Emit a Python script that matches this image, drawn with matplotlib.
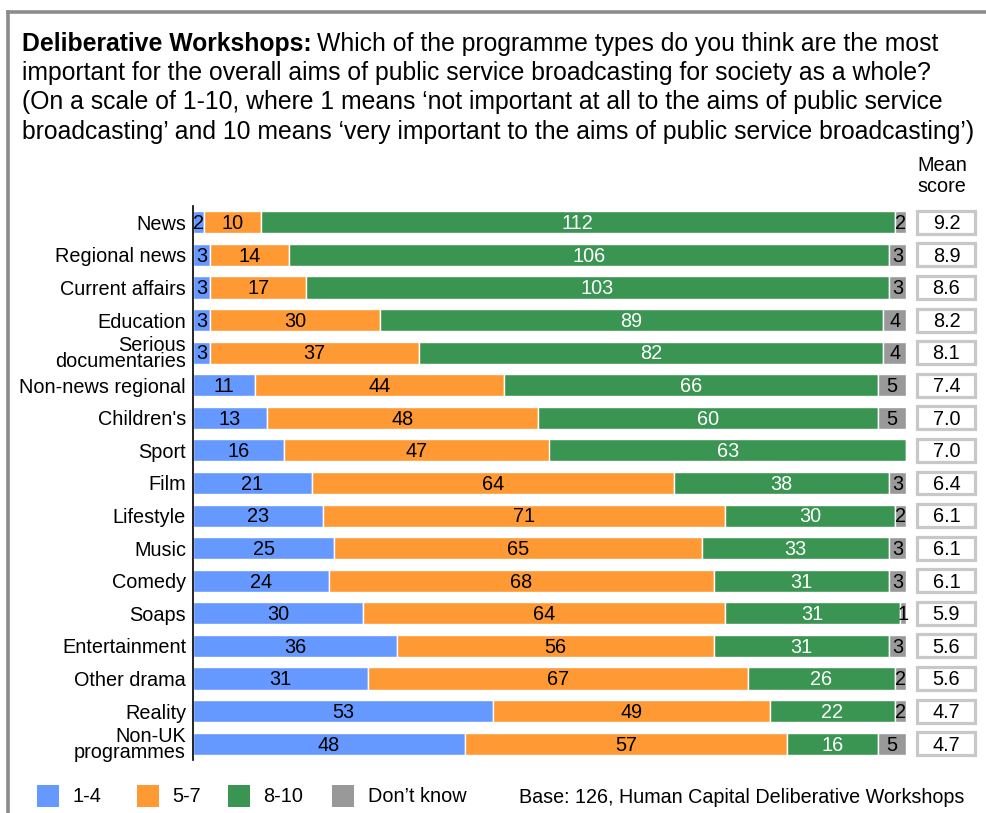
import matplotlib
matplotlib.use("Agg")
import matplotlib.pyplot as plt
from matplotlib.patches import Rectangle
from matplotlib.lines import Line2D
from matplotlib.text import Annotation
from matplotlib.transforms import blended_transform_factory

plt.rcParams['font.family'] = ['Liberation Sans', 'DejaVu Sans']

categories = ["News", "Regional news", "Current affairs", "Education",
              "Serious\ndocumentaries", "Non-news regional", "Children's", "Sport",
              "Film", "Lifestyle", "Music", "Comedy", "Soaps", "Entertainment",
              "Other drama", "Reality", "Non-UK\nprogrammes"]
low_1_4 = [2, 3, 3, 3, 3, 11, 13, 16, 21, 23, 25, 24, 30, 36, 31, 53, 48]
mid_5_7 = [10, 14, 17, 30, 37, 44, 48, 47, 64, 71, 65, 68, 64, 56, 67, 49, 57]
high_8_10 = [112, 106, 103, 89, 82, 66, 60, 63, 38, 30, 33, 31, 31, 31, 26, 22, 16]
dont_know = [2, 3, 3, 4, 4, 5, 5, 0, 3, 2, 3, 3, 1, 3, 2, 2, 5]
mean_score = ["9.2", "8.9", "8.6", "8.2", "8.1", "7.4", "7.0", "7.0", "6.4",
              "6.1", "6.1", "6.1", "5.9", "5.6", "5.6", "4.7", "4.7"]
legend_labels = ["1-4", "5-7", "8-10", "Don\u2019t know"]
colors = ["#6699FF", "#FF9933", "#3A9552", "#999999"]
text_colors = ["black", "black", "white", "black"]

W, H = 987, 813
fig = plt.figure(figsize=(W / 100, H / 100), dpi=100)

def fx(px):
    return px / W

def fy(py):
    return 1 - py / H

# outer frame (top and left edges)
fig.add_artist(Line2D([fx(8.5), 1.0], [fy(12.5), fy(12.5)], color="#8c8c8c", lw=2.6))
fig.add_artist(Line2D([fx(8.5), fx(8.5)], [fy(12.5), 0.0], color="#8c8c8c", lw=2.6))

# question text
title_size = 17.8
bold = fig.text(fx(22), fy(50.5), "Deliberative Workshops:", fontsize=title_size,
                fontweight="bold", va="baseline", ha="left")
cont = Annotation("Which of the programme types do you think are the most",
                  xy=(1, 0), xycoords=bold, xytext=(4, 0), textcoords="offset points",
                  fontsize=title_size, va="bottom", ha="left")
fig.add_artist(cont)
rest = ["important for the overall aims of public service broadcasting for society as a whole?",
        "(On a scale of 1-10, where 1 means \u2018not important at all to the aims of public service",
        "broadcasting\u2019 and 10 means \u2018very important to the aims of public service broadcasting\u2019)"]
for i, line in enumerate(rest):
    fig.text(fx(22), fy(80 + 29.3 * i), line, fontsize=title_size, va="baseline", ha="left")

fig.text(fx(942), fy(176), "Mean\nscore", fontsize=14.3, ha="center", va="center",
         linespacing=1.12)

# bar chart
ax = fig.add_axes([fx(193), fy(760), fx(906) - fx(193), (760 - 206) / H])
n = len(categories)
ypos = list(range(n))
series = [low_1_4, mid_5_7, high_8_10, dont_know]
left = [0] * n
bar_h = 0.68
label_size = 14.3
for vals, col, tcol in zip(series, colors, text_colors):
    bars = ax.barh(ypos, vals, left=left, height=bar_h, color=col,
                   edgecolor="white", linewidth=1.0)
    for b, v in zip(bars, vals):
        if v > 0:
            ax.text(b.get_x() + b.get_width() / 2, b.get_y() + b.get_height() / 2 + 0.04,
                    str(v), ha="center", va="center", fontsize=label_size, color=tcol)
    left = [l + v for l, v in zip(left, vals)]

ax.set_xlim(0, 126)
ax.set_ylim(n - 0.5, -0.5)
ax.set_yticks(ypos)
ax.set_yticklabels(categories, fontsize=label_size, linespacing=0.85)
ax.tick_params(axis="y", length=0, pad=5)
ax.set_xticks([])
for s in ["top", "right", "bottom"]:
    ax.spines[s].set_visible(False)
ax.spines["left"].set_linewidth(1.2)
ax.spines["left"].set_color("black")

# mean score boxes
trans = blended_transform_factory(ax.transAxes, ax.transData)
ax_w = 906 - 193
box_x0 = (917.5 - 193) / ax_w
box_w = 58 / ax_w
box_h = 23 / 32.6
for y, m in zip(ypos, mean_score):
    ax.add_patch(Rectangle((box_x0, y - box_h / 2), box_w, box_h, transform=trans,
                           facecolor="white", edgecolor="#c8c8c8", lw=2.3, clip_on=False))
    ax.text(box_x0 + box_w / 2, y + 0.04, m, transform=trans, ha="center", va="center",
            fontsize=label_size, clip_on=False)

# legend
sw_x = [37, 137, 228, 332]
lab_x = [73, 172, 263, 368]
for sx, lx, col, lab in zip(sw_x, lab_x, colors, legend_labels):
    fig.add_artist(Rectangle((fx(sx), fy(807)), fx(22), 22 / H, facecolor=col,
                             edgecolor="none", transform=fig.transFigure))
    fig.text(fx(lx), fy(796), lab, fontsize=14.3, ha="left", va="center")
fig.text(fx(964), fy(797), "Base: 126, Human Capital Deliberative Workshops",
         fontsize=14.2, ha="right", va="center")

fig.savefig("out.png", dpi=100)
